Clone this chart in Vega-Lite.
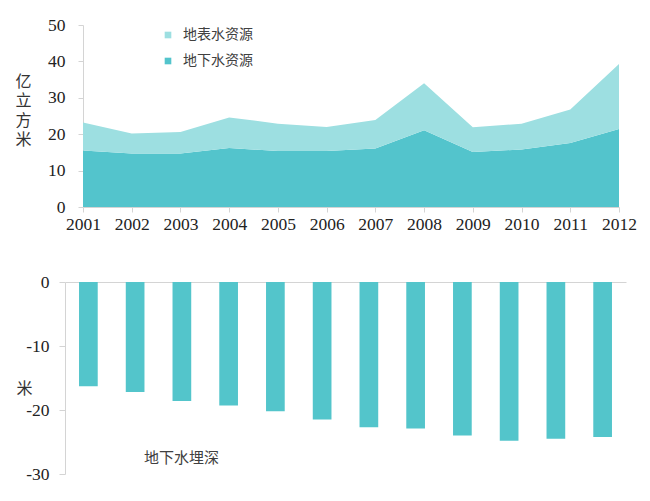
{
  "$schema": "https://vega.github.io/schema/vega-lite/v6.json",
  "background": "white",
  "padding": {"left": 14, "top": 16, "right": 10, "bottom": 5},
  "spacing": 40,
  "config": {
    "view": {"stroke": null},
    "axis": {
      "domainColor": "#d4d4d4",
      "tickColor": "#d4d4d4",
      "grid": false,
      "labelFont": "Liberation Serif",
      "labelColor": "#222222",
      "titleFont": "Noto Sans CJK SC",
      "titleFontWeight": "normal",
      "titleColor": "#333333"
    },
    "legend": {
      "labelFont": "Noto Sans CJK SC",
      "labelColor": "#404040"
    }
  },
  "datasets": {
    "water": [
      {"year": 2001, "type": "地下水资源", "value": 15.5},
      {"year": 2002, "type": "地下水资源", "value": 14.7},
      {"year": 2003, "type": "地下水资源", "value": 14.7},
      {"year": 2004, "type": "地下水资源", "value": 16.2},
      {"year": 2005, "type": "地下水资源", "value": 15.4},
      {"year": 2006, "type": "地下水资源", "value": 15.4},
      {"year": 2007, "type": "地下水资源", "value": 16.1},
      {"year": 2008, "type": "地下水资源", "value": 21.1},
      {"year": 2009, "type": "地下水资源", "value": 15.1},
      {"year": 2010, "type": "地下水资源", "value": 15.8},
      {"year": 2011, "type": "地下水资源", "value": 17.6},
      {"year": 2012, "type": "地下水资源", "value": 21.4},
      {"year": 2001, "type": "地表水资源", "value": 7.7},
      {"year": 2002, "type": "地表水资源", "value": 5.5},
      {"year": 2003, "type": "地表水资源", "value": 5.9},
      {"year": 2004, "type": "地表水资源", "value": 8.4},
      {"year": 2005, "type": "地表水资源", "value": 7.5},
      {"year": 2006, "type": "地表水资源", "value": 6.6},
      {"year": 2007, "type": "地表水资源", "value": 7.8},
      {"year": 2008, "type": "地表水资源", "value": 12.9},
      {"year": 2009, "type": "地表水资源", "value": 6.8},
      {"year": 2010, "type": "地表水资源", "value": 7.1},
      {"year": 2011, "type": "地表水资源", "value": 9.2},
      {"year": 2012, "type": "地表水资源", "value": 17.9}
    ],
    "depth": [
      {"year": "2001", "depth": -16.3},
      {"year": "2002", "depth": -17.2},
      {"year": "2003", "depth": -18.6},
      {"year": "2004", "depth": -19.3},
      {"year": "2005", "depth": -20.2},
      {"year": "2006", "depth": -21.5},
      {"year": "2007", "depth": -22.7},
      {"year": "2008", "depth": -22.9},
      {"year": "2009", "depth": -24.0},
      {"year": "2010", "depth": -24.8},
      {"year": "2011", "depth": -24.5},
      {"year": "2012", "depth": -24.2}
    ]
  },
  "vconcat": [
    {
      "width": 554,
      "height": 182,
      "data": {"name": "water"},
      "mark": {"type": "area", "opacity": 1},
      "encoding": {
        "x": {
          "field": "year",
          "type": "quantitative",
          "scale": {"domain": [2001, 2012], "nice": false, "zero": false, "range": [18, 554]},
          "axis": {
            "title": null,
            "values": [2001, 2002, 2003, 2004, 2005, 2006, 2007, 2008, 2009, 2010, 2011, 2012],
            "format": "d",
            "labelFontSize": 17.5,
            "labelPadding": 3,
            "tickSize": 5,
            "labelFlush": false,
            "labelOverlap": false
          }
        },
        "y": {
          "field": "value",
          "type": "quantitative",
          "stack": "zero",
          "scale": {"domain": [0, 50], "nice": false},
          "axis": {
            "offset": -18,
            "title": ["亿", "立", "方", "米"],
            "titleAngle": 0,
            "titleFontSize": 16,
            "titleLineHeight": 19.5,
            "titleX": -60,
            "titleY": 48,
            "titleAlign": "center",
            "titleBaseline": "top",
            "values": [0, 10, 20, 30, 40, 50],
            "labelFontSize": 17.5,
            "labelPadding": 13,
            "tickSize": 5
          }
        },
        "color": {
          "field": "type",
          "type": "nominal",
          "scale": {"domain": ["地表水资源", "地下水资源"], "range": ["#9DDFE1", "#53C4CC"]},
          "legend": {
            "title": null,
            "orient": "none",
            "legendX": 96,
            "legendY": 3,
            "padding": 0,
            "symbolType": "square",
            "symbolSize": 44,
            "symbolStrokeWidth": 0,
            "labelFontSize": 14,
            "labelOffset": 8,
            "rowPadding": 12
          }
        },
        "order": {"field": "type", "sort": "ascending"}
      }
    },
    {
      "width": 561,
      "height": 192,
      "data": {"name": "depth"},
      "mark": {"type": "bar", "color": "#53C5CB"},
      "encoding": {
        "x": {
          "field": "year",
          "type": "ordinal",
          "scale": {"paddingInner": 0.6, "paddingOuter": 0.3},
          "axis": {"orient": "top", "title": null, "labels": false, "ticks": false, "domainColor": "#d4d4d4"}
        },
        "y": {
          "field": "depth",
          "type": "quantitative",
          "scale": {"domain": [-30, 0], "nice": false},
          "axis": {
            "title": "米",
            "titleAngle": 0,
            "titleFontSize": 16,
            "titleX": -41,
            "titleY": 106,
            "titleAlign": "center",
            "titleBaseline": "middle",
            "values": [0, -10, -20, -30],
            "labelExpr": "'' + datum.value",
            "labelFontSize": 17.5,
            "labelPadding": 10,
            "tickSize": 6
          }
        },
        "color": {
          "datum": "地下水埋深",
          "scale": {"range": ["#53C5CB"]},
          "legend": {
            "title": null,
            "orient": "none",
            "legendX": 64,
            "legendY": 168,
            "padding": 0,
            "symbolSize": 0,
            "symbolOpacity": 0,
            "symbolStrokeWidth": 0,
            "labelOffset": 0,
            "labelFontSize": 15
          }
        }
      }
    }
  ],
  "resolve": {"scale": {"color": "independent"}, "legend": {"color": "independent"}}
}
